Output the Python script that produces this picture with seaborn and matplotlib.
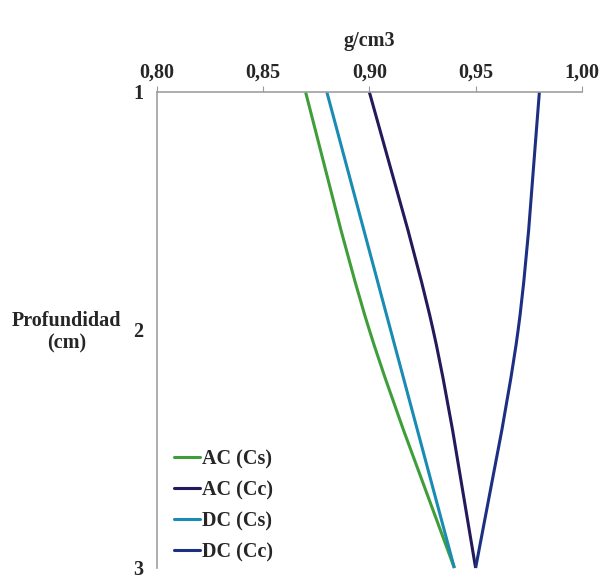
import numpy as np
import pandas as pd
import matplotlib
matplotlib.use('Agg')
import matplotlib.pyplot as plt
from matplotlib.path import Path
from matplotlib.patches import PathPatch
import seaborn as sns

# depth (cm) and bulk density (g/cm3) per series
depth = [1, 2, 3]
ac_cs = [0.87, 0.90, 0.94]
ac_cc = [0.90, 0.93, 0.95]
dc_cs = [0.88, 0.91, 0.94]
dc_cc = [0.98, 0.97, 0.95]
series_names = ['AC (Cs)', 'AC (Cc)', 'DC (Cs)', 'DC (Cc)']
x_ticks = [0.80, 0.85, 0.90, 0.95, 1.00]

colours = ['#3f9e3a', '#24195a', '#1a8bb3', '#1c2f82']


def smooth_path(xy):
    """Excel-style smoothed line: cubic Bezier through the points."""
    pts = np.asarray(xy, dtype=float)
    n = len(pts)
    verts = [pts[0]]
    codes = [Path.MOVETO]
    for i in range(n - 1):
        p_prev = pts[i - 1] if i > 0 else pts[i]
        p_next2 = pts[i + 2] if i + 2 < n else pts[i + 1]
        c1 = pts[i] + (pts[i + 1] - p_prev) / 6.0
        c2 = pts[i + 1] - (p_next2 - pts[i]) / 6.0
        verts += [c1, c2, pts[i + 1]]
        codes += [Path.CURVE4] * 3
    return Path(verts, codes)


sns.set_style('white')
plt.rcParams['font.family'] = ['Liberation Serif', 'DejaVu Serif']
plt.rcParams['font.weight'] = 'bold'

frames = []
for name, vals in zip(series_names, [ac_cs, ac_cc, dc_cs, dc_cc]):
    frames.append(pd.DataFrame({'serie': name, 'prof': depth, 'valor': vals}))
df = pd.concat(frames, ignore_index=True)

fig = plt.figure(figsize=(6.03, 5.77), dpi=100)
ax = fig.add_axes([0.260, 0.0156, 0.705, 0.825])

sns.lineplot(data=df, x='valor', y='prof', hue='serie', sort=False,
             orient='y', palette=colours, linewidth=2.2, ax=ax,
             estimator=None)
handles, labels = ax.get_legend_handles_labels()

# replace the straight polylines with smoothed curves
for line in list(ax.lines):
    xy = line.get_xydata()
    if len(xy) < 2:
        continue
    ax.add_patch(PathPatch(smooth_path(xy), fill=False,
                           edgecolor=line.get_color(),
                           linewidth=line.get_linewidth(),
                           capstyle='butt', clip_on=False))
    line.set_visible(False)

ax.set_xlim(0.80, 1.00)
ax.set_ylim(3, 1)
ax.set_xticks(x_ticks)
ax.set_xticklabels([f'{v:.2f}'.replace('.', ',') for v in x_ticks],
                   fontsize=14.5, fontweight='bold')
ax.set_yticks(depth)
ax.set_yticklabels([str(d) for d in depth], fontsize=14.5, fontweight='bold')
ax.xaxis.tick_top()
ax.xaxis.set_label_position('top')
ax.tick_params(axis='both', length=4, width=0.8, color='#9a9a9a',
               direction='out', pad=6)
ax.tick_params(axis='x', pad=3)

ax.set_xlabel('g/cm3', fontsize=14.5, fontweight='bold', labelpad=12)
ax.set_ylabel('Profundidad\n(cm)', fontsize=14.5, fontweight='bold',
              rotation=0, ha='center', va='center', labelpad=0)
ax.yaxis.set_label_coords(-0.212, 0.495)

for side in ['right', 'bottom']:
    ax.spines[side].set_visible(False)
for side in ['top', 'left']:
    ax.spines[side].set_color('#a0a0a0')
    ax.spines[side].set_linewidth(1.2)

ax.legend(handles, labels, loc='upper left',
          bbox_to_anchor=(174 / 603, 1 - 449 / 577),
          bbox_transform=fig.transFigure, frameon=False,
          prop={'size': 14.5, 'weight': 'bold'},
          handlelength=1.3, handletextpad=0.1, labelspacing=0.55,
          borderpad=0, borderaxespad=0)

fig.savefig('out.png', dpi=100)
plt.close(fig)
